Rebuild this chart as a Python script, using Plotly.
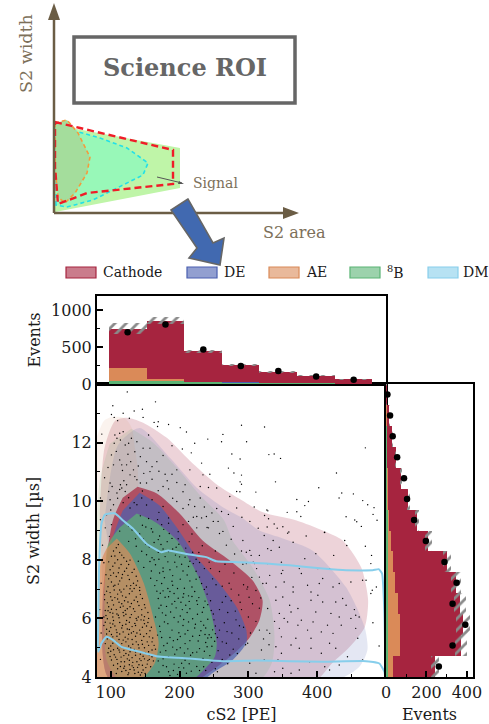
import plotly.graph_objects as go

W, H = 489, 724

# ---------- histogram data ----------
cs2_edges = [97, 152, 207, 262, 316, 371, 426, 480]
top_total = [750, 855, 445, 260, 160, 115, 65]
top_b8 = [42, 40, 22, 10, 3, 1, 0]
top_ae = [173, 28, 6, 2, 1, 0, 0]
top_de = [5, 5, 3, 2, 1, 1, 0]
top_err = [80, 50, 20, 15, 10, 8, 5]
top_obs = [700, 805, 468, 245, 177, 100, 59]

width_edges = [4 + i * 10 / 14 for i in range(15)]
right_total = [243, 372, 380, 367, 347, 301, 210, 155, 110, 73, 48, 31, 17, 2]
right_b8 = [8, 8, 8, 8, 8, 6, 6, 5, 3, 2, 1, 1, 0, 0]
right_ae = [28, 62, 62, 52, 37, 28, 20, 12, 8, 4, 3, 2, 1, 0]
right_err = [20, 30, 33, 30, 25, 20, 15, 10, 7, 5, 3, 2, 2, 1]
right_obs = [261, 329, 392, 329, 349, 289, 197, 139, 104, 89, 55, 33, 20, 7]

# ---------- contour outlines (cS2, S2 width) ----------
cath_outer = [(84,9.57),(91,11.83),(106,12.74),(123,12.85),(147,12.68),(181,12.17),(215,11.38),(253,10.59),(287,10.08),(321,9.62),(370,9.34),(408,9.0),(437,8.66),(464,7.74),(474,6.62),(469,5.7),(447,5.02),(422,4.48),(393,3.8),(118,3.8),(89,6.2)]
de_outer = [(91,9.34),(110,11.89),(142,12.5),(186,11.48),(225,10.46),(264,9.78),(290,9.44),(316,9.0),(350,8.73),(393,8.32),(442,7.06),(469,5.7),(473,4.92),(461,4.34),(428,3.9),(128,3.9)]
b8_outer = [(130,12.47),(162,11.99),(196,11.14),(229,10.22),(264,9.37),(277,8.66),(306,7.74),(331,6.62),(338,5.36),(334,4.48),(316,3.9),(78,3.9),(78,7.98),(84,10.7),(98.5,11.96)]
ae_outer = [(80,12.2),(90,12.74),(101.5,12.87),(120,12.84),(130.5,12.5),(135,11.82),(139,11.14),(140.6,10.46),(149,9.0),(178,6.62),(188.5,4.92),(171,3.9),(78,3.9),(78,10.7)]
cath_inner = [(139,10.49),(167,10.26),(200,9.58),(233.5,8.66),(273,7.98),(306,7.3),(320.6,6.62),(316,5.94),(299,5.26),(273,4.68),(244,4.17),(225,3.9),(98.5,3.9),(88.4,6.6),(103,9.34),(117.4,10.12)]
de_inner = [(142,10.29),(171,9.85),(196,9.1),(225,8.08),(254,7.3),(283,6.38),(297,5.6),(297,5.16),(277,4.58),(248,4.14),(233.5,3.9),(98.5,3.9),(88.4,6.6),(103,8.76),(117.4,9.68)]
b8_inner = [(137.7,9.58),(161,9.34),(181,9.0),(200,8.56),(225,7.54),(243.6,6.38),(254,5.16),(251,4.68),(235,4.24),(217.5,3.9),(113,3.9),(94,4.58),(91.3,6.72),(95.6,8.49),(113,9.1)]
ae_inner = [(108.7,8.73),(127.6,8.22),(148,7.2),(164,5.84),(169.6,5.16),(164,4.48),(142,3.9),(80,3.9),(81,5.26),(85,7.88),(94.2,8.39)]
dm_line = [(81.6,4.86),(82,6.17),(83,7.75),(86.5,9.23),(91.3,9.54),(105.8,9.59),(117.9,9.34),(132.4,9.06),(151.8,8.55),(173.5,8.26),(183.2,8.32),(214.7,8.18),(238.8,8.09),(253.4,7.95),(287.2,7.92),(325.9,7.87),(359.8,7.81),(408.2,7.7),(442,7.64),(480.7,7.64),(489.4,7.68),(494.3,7.53),(497.7,6.17),(499,4),(497.7,4.18),(490.4,4.46),(471,4.54),(408.2,4.52),(359.8,4.54),(311.4,4.56),(263,4.54),(214.7,4.63),(166.3,4.71),(142.1,4.86),(115.5,5.03),(103.4,5.26),(93.7,5.37),(86.5,5.15),(81.6,4.86)]

# ---------- observed events, read by eye ----------
dots_sparse = [(290,12.59),(323.5,12.53),(297.4,12.03),(329.8,11.59),(337.5,11.61),(346.7,11.46),(470,11.82),(290,10.89),(288,10.66),(339.4,10.66),(428,10.96),(402.3,10.46),(287.7,10.32),(310.9,10.31),(435.7,10.28),(452.6,10.25),(431.8,10.11),(370.4,10.06),(387.3,9.99),(466.2,10.02),(473.4,9.88),(382,9.85),(482.6,9.78),(308.5,9.8),(326.9,9.7),(328.3,9.67),(356.4,9.62),(370.4,9.64),(481.2,9.55),(323.5,9.51),(376.2,9.48),(442,9.47),(290.6,9.45),(329.3,9.4),(454.6,9.36),(457.5,9.3),(487,9.35),(302.2,9.31),(337.5,9.22),(350.1,9.13),(327.3,9.12),(341.9,9.08),(314.3,9.08),(464.2,9.14),(358.8,8.95),(410.5,8.93),
(124,13.73),(165,13.39),(103,13.26),(146,13.14),(134,13.08),(118,13.0),(101,12.96),(127,12.83),(105,12.86),(110,12.75),(147,12.86),(169,12.71),(184,12.62),(201,12.51),(163,12.69),(168,12.55),(87,12.29),(113,12.32),(106,12.26),(118,12.37),(109,12.15),(114,12.09),(105,11.98),(126,11.98),(121,11.92),(138,12.03),(155,12.26),(210,12.36),(241,12.12),(263,12.28),(261,12.03),(222,11.98),(189,11.89),(204,11.78),(217,11.65),(276,11.61),(288,11.44),(135,11.69),(147,11.81),(157,11.81),(101,11.58),(143,11.52),(176,11.56),(167,11.35),(113,11.41),(123,11.24),(104,11.24),(116,11.24),(133,11.07),(160,11.18),(157,11.01),(179,10.92),(189,10.92),(196,11.07),(215,11.07),(232,11.3),(271,11.13),(279,10.96),(244,10.92),(234,10.9),(135,10.84),(138,10.73),(143,10.62),(152,10.62),(99,10.62),(114,10.56),(116,10.45),(123,10.56),(97,10.33),(109,10.28),(85,10.11),(104,9.88),(121,10.33),(99,10.05),(169,10.36),(184,10.42),(196,10.64),(208,10.56),(230,10.5),(242,10.47),(254,10.45),(273,10.16),(283,10.33),(290,10.58),(196,9.99),(215,10.05),(230,10.11),(213,9.88),(222,9.82),(247,9.6),(239,9.48),(225,9.48),(232,9.43),(249,9.31),(261,9.65),(283,9.77),(94,9.54),(85,9.37),(101,9.2),(92,9.09),(213,9.31),(225,9.09),(242,9.09),(263,8.97),(278,9.14),(256,9.31),(176,9.82),(160,10.05),(145,10.11),(184,9.43),(128,9.77),(138,9.88),
(357,8.91),(384,8.81),(411,8.94),(440,8.66),(443,8.49),(470,8.46),(479,8.15),(424,8.15),(365,8.6),(336,8.66),(323,8.83),(345,8.43),(316,8.15),(304,8.15),(292,8.66),(297,8.26),(328,8.38),(398,8.21),(478,7.87),(382,8.04),(348,7.92),(328,7.87),(307,7.92),(297,7.87),(401,7.7),(418,7.7),(374,7.7),(350,7.64),(316,7.41),(331,7.47),(348,7.53),(377,7.53),(408,7.36),(403,7.19),(386,7.13),(365,7.07),(352,7.24),(340,7.07),(321,7.19),(299,7.07),(466,7.3),(471,7.3),(449,7.24),(486,7.07),(480,6.96),(432,7.19),(423,7.07),(391,6.9),(365,6.9),(350,6.73),(401,6.79),(437,6.68),(427,6.56),(454,6.3),(442,6.45),(478,6.85),(360,6.45),(340,6.62),(328,6.34),(391,6.62),(408,6.56),(372,6.34),(362,6.22),(345,6.17),(398,6.22),(420,6.17),(456,6.11),(449,6.0),(432,6.05),(461,6.05),(481,5.85),(352,6.0),(357,5.88),(377,5.94),(394,5.88),(415,5.77),(435,5.77),(456,5.66),(345,5.66),(372,5.77),(386,5.6),(406,5.54),(423,5.49),(348,5.37),(369,5.32),(391,5.32),(331,5.49),(316,5.6),(299,5.15),(319,4.92),(340,5.03),(362,5.09),(391,4.98),(418,5.15),(427,4.98),(459,5.32),(490,5.06),(348,4.81),(374,4.98),(406,4.81),(444,4.69),(466,4.58),(389,4.52),(343,4.58),(323,4.58),(302,4.47),(350,4.3),(374,4.24),(411,4.35),(418,4.24),(338,4.18),(311,4.13),(362,4.13),(432,4.41),(302,8.32),(309,7.87),(333,8.32)]

dots_ae = [(108,8.41),(113,8.25),(101,8.12),(119,8.07),(97,7.93),(106,7.89),(126,7.84),(112,7.72),(99,7.66),(120,7.61),(131,7.57),(93,7.49),(108,7.43),(116,7.38),(127,7.33),(139,7.28),(101,7.24),(111,7.17),(96,7.08),(123,7.11),(134,7.02),(142,6.95),(105,6.97),(115,6.9),(127,6.84),(91,6.81),(100,6.74),(137,6.73),(146,6.68),(110,6.66),(120,6.6),(95,6.53),(130,6.51),(104,6.46),(141,6.44),(114,6.38),(124,6.33),(150,6.36),(92,6.27),(99,6.2),(135,6.24),(109,6.15),(119,6.09),(145,6.12),(128,6.03),(155,6.0),(95,5.99),(104,5.93),(138,5.94),(113,5.86),(122,5.8),(149,5.82),(90,5.76),(131,5.72),(100,5.69),(159,5.7),(108,5.61),(142,5.6),(118,5.54),(94,5.47),(126,5.46),(152,5.48),(136,5.39),(103,5.37),(161,5.33),(112,5.28),(145,5.25),(122,5.2),(92,5.14),(132,5.12),(100,5.06),(155,5.08),(110,4.98),(141,4.99),(119,4.91),(165,4.95),(128,4.86),(96,4.83),(150,4.82),(105,4.76),(136,4.74),(115,4.68),(160,4.69),(124,4.62),(101,4.58),(144,4.56),(132,4.5),(110,4.45),(153,4.44),(120,4.37),(139,4.33),(128,4.26),(147,4.24),(116,4.19),(135,4.12),(125,4.08),(143,4.07),(156,4.6),(117,6.77),(103,6.05),(133,5.55),(97,4.98),(148,5.94),(106,7.13),(128,7.01),(116,5.14),(137,6.0),(121,6.27),(109,5.52),(90,6.05),(153,5.2),(126,4.75),(112,6.55),
(104,8.3),(116,8.16),(110,8.0),(123,7.95),(103,7.78),(134,7.68),(117,7.5),(104,7.55),(125,7.47),(97,7.35),(133,7.2),(113,7.28),(104,7.1),(119,7.0),(137,7.13),(94,6.93),(110,6.83),(122,6.72),(143,6.82),(102,6.62),(116,6.5),(134,6.62),(97,6.4),(108,6.3),(128,6.4),(145,6.3),(118,6.2),(103,6.18),(130,6.13),(154,6.2),(93,6.1),(112,6.02),(123,5.93),(140,6.05),(99,5.84),(117,5.76),(135,5.83),(154,5.86),(106,5.74),(127,5.62),(146,5.7),(94,5.63),(113,5.47),(138,5.5),(157,5.58),(101,5.45),(121,5.36),(148,5.38),(131,5.28),(108,5.18),(160,5.2),(95,5.3),(126,5.06),(140,5.1),(114,5.04),(149,5.0),(104,4.93),(134,4.94),(160,4.92),(122,4.8),(113,4.85),(143,4.78),(156,4.75),(99,4.7),(131,4.66),(109,4.6),(149,4.62),(120,4.52),(138,4.52),(162,4.55),(114,4.36),(127,4.42),(146,4.4),(134,4.24),(122,4.22),(110,4.28),(140,4.16),(150,4.12),
(111,8.52),(106,8.13),(128,7.99),(115,7.84),(137,7.44),(123,7.71),(100,7.47),(111,7.56),(129,7.12),(142,7.06),(99,6.88),(113,6.97),(131,6.93),(106,6.71),(125,6.56),(139,6.57),(149,6.47),(91,6.64),(118,6.42),(101,6.31),(133,6.33),(122,6.14),(149,6.06),(96,6.26),(111,6.11),(136,5.76),(127,5.87),(144,5.95),(103,5.81),(92,5.87),(116,5.67),(152,5.74),(109,5.39),(130,5.5),(143,5.46),(124,5.64),(98,5.56),(156,5.37),(118,5.26),(137,5.2),(103,5.15),(125,5.3),(146,5.12),(163,5.08),(112,4.92),(129,4.99),(155,4.86),(100,4.88),(136,4.85),(119,4.73),(147,4.71),(107,4.68),(127,4.57),(142,4.62),(115,4.52),(154,4.56),(131,4.38),(104,4.4),(141,4.42),(119,4.3),(151,4.32),(126,4.14),(133,4.32),(108,4.12),(145,4.15),(158,4.35)]

dots_mid = [(151,9.12),(168,9.37),(143,9.5),(177,9.04),(189,8.73),(156,8.44),(171,8.81),(131,9.02),(147,8.71),(199,8.53),(161,8.95),(184,8.28),(137,8.46),(208,8.09),(152,8.17),(173,8.52),(193,7.92),(165,7.83),(213,7.77),(179,8.11),(148,7.74),(224,7.61),(201,7.34),(158,7.37),(186,7.66),(218,7.07),(171,7.55),(232,7.19),(196,7.76),(207,7.03),(176,6.94),(164,7.12),(228,6.71),(189,7.27),(240,6.83),(214,6.58),(198,6.69),(169,6.68),(181,6.41),(235,6.37),(222,6.92),(246,6.27),(204,6.3),(175,6.19),(192,6.03),(226,6.14),(213,5.88),(241,5.97),(183,5.82),(252,5.74),(199,5.51),(171,5.73),(231,5.58),(219,5.39),(243,5.44),(186,5.35),(208,5.14),(177,5.07),(251,5.22),(196,4.93),(229,4.97),(238,5.18),(216,4.74),(184,4.69),(203,4.47),(244,4.73),(172,4.85),(225,4.36),(191,4.22),(210,4.13),(176,4.39),(234,4.63),(197,5.28),(222,5.67),(168,5.43),(187,6.22),(205,5.76),(237,6.59),(178,7.39),(211,7.48),(194,8.16),(160,8.07),(182,8.62),(142,8.88),(126,8.63),(219,8.26),(229,7.91),(206,6.84),(215,6.33),(248,5.61),(190,5.02),(173,6.45),(201,6.08),(227,5.23),(183,7.02),(165,6.05),(193,6.58),(235,5.77),(241,5.33),(212,4.96),(199,4.66),(181,4.35),(219,4.83),(170,4.17),(186,4.05),(206,4.31),
(155,9.41),(174,9.2),(163,8.59),(190,8.37),(145,8.29),(215,7.95),(169,8.26),(157,7.94),(176,7.72),(205,7.62),(190,7.13),(224,7.34),(167,7.29),(236,6.99),(209,6.45),(184,6.74),(226,6.48),(195,6.36),(245,6.6),(172,6.86),(219,5.99),(231,5.9),(180,6.11),(206,5.96),(250,5.95),(189,5.6),(212,5.59),(174,5.35),(237,5.45),(201,5.38),(225,4.85),(192,4.44),(247,5.05),(180,4.9),(207,4.82),(235,4.35),(217,4.2),(197,4.09),(163,8.0),(140,7.95),
(159,9.06),(146,9.18),(185,8.9),(169,8.69),(136,8.72),(195,8.43),(176,8.37),(151,8.53),(203,7.85),(183,7.93),(170,8.02),(220,7.87),(159,7.62),(190,7.46),(215,7.28),(174,7.19),(197,7.02),(229,7.41),(239,7.07),(213,6.77),(186,6.92),(167,6.93),(225,6.6),(202,6.55),(179,6.72),(241,6.47),(233,6.21),(189,6.49),(211,6.2),(170,6.35),(249,6.15),(198,5.88),(223,5.8),(238,5.67),(178,5.88),(208,5.47),(191,5.24),(229,5.42),(246,5.35),(172,5.55),(215,5.24),(201,5.0),(182,5.15),(236,4.88),(222,4.62),(193,4.78),(208,4.57),(176,4.62),(229,4.22),(214,4.45),(184,4.18),(199,4.32),(169,4.55),(240,5.03),(252,5.48),(205,6.72),(218,6.75),(192,6.85),(176,7.6),(200,8.1),
(184,9.25),(198,8.96),(214,8.62),(228,8.25),(243,7.92),(258,7.6),(272,7.2),(286,6.8),(262,7.1),(248,7.35),(236,7.7),(224,8.02),(209,8.4),(198,8.72),(275,6.6),(262,6.55),(290,6.3),(270,6.2),(258,6.3),(282,5.95),(265,5.85),(293,5.7),(276,5.5),(258,5.6),(286,5.3),(268,5.15),(256,4.9),(278,4.95),(262,4.6),(247,4.5),(238,4.22),(252,4.28),
(268,8.5),(280,8.2),(292,7.85),(305,7.4),(298,7.0),(311,6.95),(306,6.5),(316,6.35),(300,6.05),(311,5.9),(303,5.5),(296,5.1),(284,4.8),(270,4.45),(255,4.18),
(338,5.9),(327,5.6),(330,5.1),(322,5.3),(318,6.7),(326,7.2),(312,7.7),(290,8.3),(275,8.7),(258,8.9),(240,9.1),(220,9.45),(205,9.75),(190,10.1),(176,10.5),(160,10.75),(148,10.95),(128,10.9),(119,10.7),(110,10.1),(118,9.95),(100,9.7),(109,9.55),(126,9.15),(113,8.98),(98,8.8),(88,8.5),(90,7.9),(86,7.2),(84,6.3),(86,5.5),(85,4.6),
(252,8.3),(266,7.85),(279,7.55),(293,7.15),(301,6.72),(288,6.55),(275,7.0),(253,7.15),(267,6.75),(281,6.25),(269,5.55),(287,5.75),(262,5.2),(273,4.75),(255,5.35),(245,7.7),(233,8.48),(218,8.88),(205,9.2),(170,9.62),(152,9.87),(134,9.95),(126,10.12),(113,10.4),(102,10.5),(129,11.35),(140,11.2),(117,11.05),(108,11.7),(96,11.15),(91,10.8),(125,11.6),(130,12.15),(152,11.35),(170,11.02),(146,10.35),(182,10.7),(205,10.32),(236,9.8),(254,9.75),(271,9.55)]

dots = dots_sparse + dots_ae + dots_mid
dots_x = [p[0] for p in dots]
dots_y = [p[1] for p in dots]

CATH, DE, AE, B8, DM = "#a6243f", "#4a5fb0", "#da8a58", "#5ab474", "#87ceeb"
INK = "#1a1a1a"


def rgba(c, a):
    return f"rgba({int(c[1:3],16)},{int(c[3:5],16)},{int(c[5:7],16)},{a})"


fig = go.Figure()

for pts, col, a in [(cath_outer, CATH, .2), (de_outer, DE, .15), (b8_outer, B8, .14), (ae_outer, AE, .1),
                    (cath_inner, CATH, .7), (de_inner, DE, .7), (b8_inner, B8, .7), (ae_inner, AE, .7)]:
    fig.add_trace(go.Scatter(x=[p[0] for p in pts], y=[p[1] for p in pts], mode="lines", fill="toself",
                             fillcolor=rgba(col, a), line=dict(width=0, shape="spline", smoothing=.7),
                             hoverinfo="skip", showlegend=False))

fig.add_trace(go.Scatter(x=dots_x, y=dots_y, mode="markers", marker=dict(size=1.4, color="black"),
                         showlegend=False))
fig.add_trace(go.Scatter(x=[p[0] for p in dm_line], y=[p[1] for p in dm_line], mode="lines",
                         line=dict(color=DM, width=2, shape="spline", smoothing=.4), showlegend=False))

HATCH = dict(shape="/", fgcolor="#8a8a8a", bgcolor="rgba(0,0,0,0)", fgopacity=1, size=8, solidity=.35)

# top histogram
cx = [(a + b) / 2 for a, b in zip(cs2_edges, cs2_edges[1:])]
wx = [b - a for a, b in zip(cs2_edges, cs2_edges[1:])]
for vals, col in [(top_total, CATH),
                  ([a + b + c for a, b, c in zip(top_b8, top_ae, top_de)], DE),
                  ([a + b for a, b in zip(top_b8, top_ae)], AE),
                  (top_b8, B8)]:
    fig.add_trace(go.Bar(x=cx, y=vals, width=wx, marker=dict(color=col, line=dict(width=0)), xaxis="x2", yaxis="y2",
                         showlegend=False))
fig.add_trace(go.Bar(x=cx, y=[2 * e for e in top_err], base=[t - e for t, e in zip(top_total, top_err)], width=wx,
                     marker=dict(color="rgba(0,0,0,0)", line=dict(width=0), pattern=HATCH),
                     xaxis="x2", yaxis="y2", showlegend=False))
fig.add_trace(go.Scatter(x=cx, y=top_obs, mode="markers", marker=dict(size=6.5, color="black"), xaxis="x2", yaxis="y2",
                         showlegend=False))

# right histogram
cy = [(a + b) / 2 for a, b in zip(width_edges, width_edges[1:])]
wy = [b - a for a, b in zip(width_edges, width_edges[1:])]
for vals, col in [(right_total, CATH),
                  ([a + b for a, b in zip(right_b8, right_ae)], AE),
                  (right_b8, B8)]:
    fig.add_trace(go.Bar(y=cy, x=vals, width=wy, orientation="h", marker=dict(color=col, line=dict(width=0)),
                         xaxis="x3", yaxis="y3", showlegend=False))
fig.add_trace(go.Bar(y=cy, x=[2 * e for e in right_err], base=[t - e for t, e in zip(right_total, right_err)], width=wy,
                     orientation="h", marker=dict(color="rgba(0,0,0,0)", line=dict(width=0), pattern=HATCH),
                     xaxis="x3", yaxis="y3", showlegend=False))
fig.add_trace(go.Scatter(y=cy, x=right_obs, mode="markers", marker=dict(size=6.5, color="black"), xaxis="x3", yaxis="y3",
                         cliponaxis=False, showlegend=False))

SPINE = dict(showline=True, linecolor="black", linewidth=2, mirror=True, showgrid=False, zeroline=False, automargin=False,
             ticks="inside", tickcolor="black", tickwidth=1.5, ticklen=6,
             tickfont=dict(family="DejaVu Serif", size=16, color=INK))
TF = dict(family="DejaVu Serif", size=16, color=INK)

fig.update_layout(
    width=W, height=H, autosize=False, margin=dict(l=0, r=0, t=0, b=0), paper_bgcolor="white", plot_bgcolor="white",
    barmode="overlay", bargap=0, showlegend=False,
    xaxis=dict(SPINE, domain=[97 / W, 386 / W], range=[80, 500], tickvals=[100, 200, 300, 400],
               minor=dict(tickvals=[150, 250, 350, 450], ticks="inside", ticklen=3, tickcolor="black", tickwidth=1.2),
               title=dict(text="cS2 [PE]", font=TF, standoff=10), anchor="y"),
    yaxis=dict(SPINE, domain=[1 - 677 / H, 1 - 384 / H], range=[4, 14], tickvals=[4, 6, 8, 10, 12],
               minor=dict(tickvals=[5, 7, 9, 11, 13], ticks="inside", ticklen=3, tickcolor="black", tickwidth=1.2), anchor="x"),
    xaxis2=dict(SPINE, domain=[97 / W, 386 / W], range=[80, 500], showticklabels=False, ticks="", anchor="y2"),
    yaxis2=dict(SPINE, domain=[1 - 384 / H, 1 - 296 / H], range=[0, 1190], tickvals=[0, 500, 1000],
                minor=dict(tickvals=[250, 750], ticks="inside", ticklen=3, tickcolor="black", tickwidth=1.2),
                title=dict(text="Events", font=TF, standoff=6), anchor="x2"),
    xaxis3=dict(SPINE, domain=[386 / W, 473 / W], range=[0, 430], tickvals=[0, 200, 400],
                minor=dict(tickvals=[100, 300], ticks="inside", ticklen=3, tickcolor="black", tickwidth=1.2),
                title=dict(text="Events", font=TF, standoff=10), anchor="y3"),
    yaxis3=dict(SPINE, domain=[1 - 677 / H, 1 - 384 / H], range=[4, 14], showticklabels=False, ticks="", anchor="x3"),
)

# ---------- schematic and legend, placed on the page in pixels ----------
BROWN = "#6b5d45"
TXT = "#7d705a"


def P(x, y):
    return x / W, 1 - y / H


def poly(pts, fill="rgba(0,0,0,0)", line=None, lw=0, dash=None):
    d = "M " + " L ".join("{:.4f},{:.4f}".format(*P(*p)) for p in pts) + " Z"
    ln = dict(width=lw, color=line or "rgba(0,0,0,0)")
    if dash:
        ln["dash"] = dash
    fig.add_shape(type="path", path=d, xref="paper", yref="paper", fillcolor=fill, line=ln, layer="above")


def seg(a, b, col, lw, dash=None):
    xa, ya = P(*a)
    xb, yb = P(*b)
    ln = dict(color=col, width=lw)
    if dash:
        ln["dash"] = dash
    fig.add_shape(type="line", x0=xa, y0=ya, x1=xb, y1=yb, xref="paper", yref="paper", line=ln, layer="above")


def txt(x, y, s, size, col, family="DejaVu Serif", angle=0, anchor="left"):
    px, py = P(x, y)
    fig.add_annotation(x=px, y=py, xref="paper", yref="paper", text=s, showarrow=False, xanchor=anchor, yanchor="middle",
                       font=dict(family=family, size=size, color=col), textangle=angle, borderpad=0, borderwidth=0)


txt(33, 531, "S2 width [µs]", 16, INK, angle=-90, anchor="center")

sz = [(55, 125), (180, 148), (180, 188), (55, 212)]
poly(sz, fill="#bff5a8")
poly([(56, 205), (57, 143), (65, 131), (75, 131), (100, 138), (127, 148), (148, 163), (143, 175), (117, 188), (93, 200), (67, 207)],
     fill="#98f8b8", line="#22e0e8", lw=1.6, dash="4px,3px")
poly([(55, 123), (67, 120), (78, 133), (90, 157), (87, 173), (75, 193), (65, 203), (58, 197), (55, 167)],
     fill="#a4dd9c", line="#f59a3c", lw=1.6, dash="4px,3px")
poly([(55, 122), (80, 128), (173, 150), (173, 184), (87, 193), (58, 204), (55, 167)], line="#f01c28", lw=2.4, dash="7px,4px")

seg((54, 213), (54, 20), BROWN, 2.5)
seg((54, 213), (284, 213), BROWN, 2.5)
poly([(54, 3), (48, 20), (60, 20)], fill=BROWN)
poly([(299, 213), (283, 207), (283, 219)], fill=BROWN)
seg((157, 177), (182, 183), "#555", 1)
poly([(184, 184), (178, 184), (179, 181)], fill="#555")

xa, ya = P(74, 37)
xb, yb = P(295, 103)
fig.add_shape(type="rect", x0=xa, y0=ya, x1=xb, y1=yb, xref="paper", yref="paper", line=dict(color="#666666", width=3.5),
              fillcolor="white", layer="above")
txt(184.5, 68, "<b>Science ROI</b>", 24, "#666666", anchor="center")
txt(26, 54, "S2 width", 17.5, TXT, angle=-90, anchor="center")
txt(263, 233, "S2 area", 16, TXT)
txt(193, 183, "Signal", 14, TXT)

for x0, tx, label, col in [(66, 103, "Cathode", CATH), (187, 224, "DE", DE), (269, 306, "AE", AE),
                           (350, 387, "<sup>8</sup>B", B8), (428, 463, "DM", DM)]:
    poly([(x0, 267), (x0 + 30, 267), (x0 + 30, 278), (x0, 278)], fill=rgba(col, .6), line=col, lw=1.2)
    txt(tx, 272, label, 14, INK)

poly([(188, 199), (171, 210), (197, 248), (189, 258), (220, 265), (224, 238), (213, 243)], fill="#4169b0", line="#666666", lw=1.6)

fig.write_html("out.html", config=dict(displayModeBar=False),
               post_script="document.body.style.margin='0';document.body.style.overflow='hidden';document.documentElement.style.overflow='hidden';")
